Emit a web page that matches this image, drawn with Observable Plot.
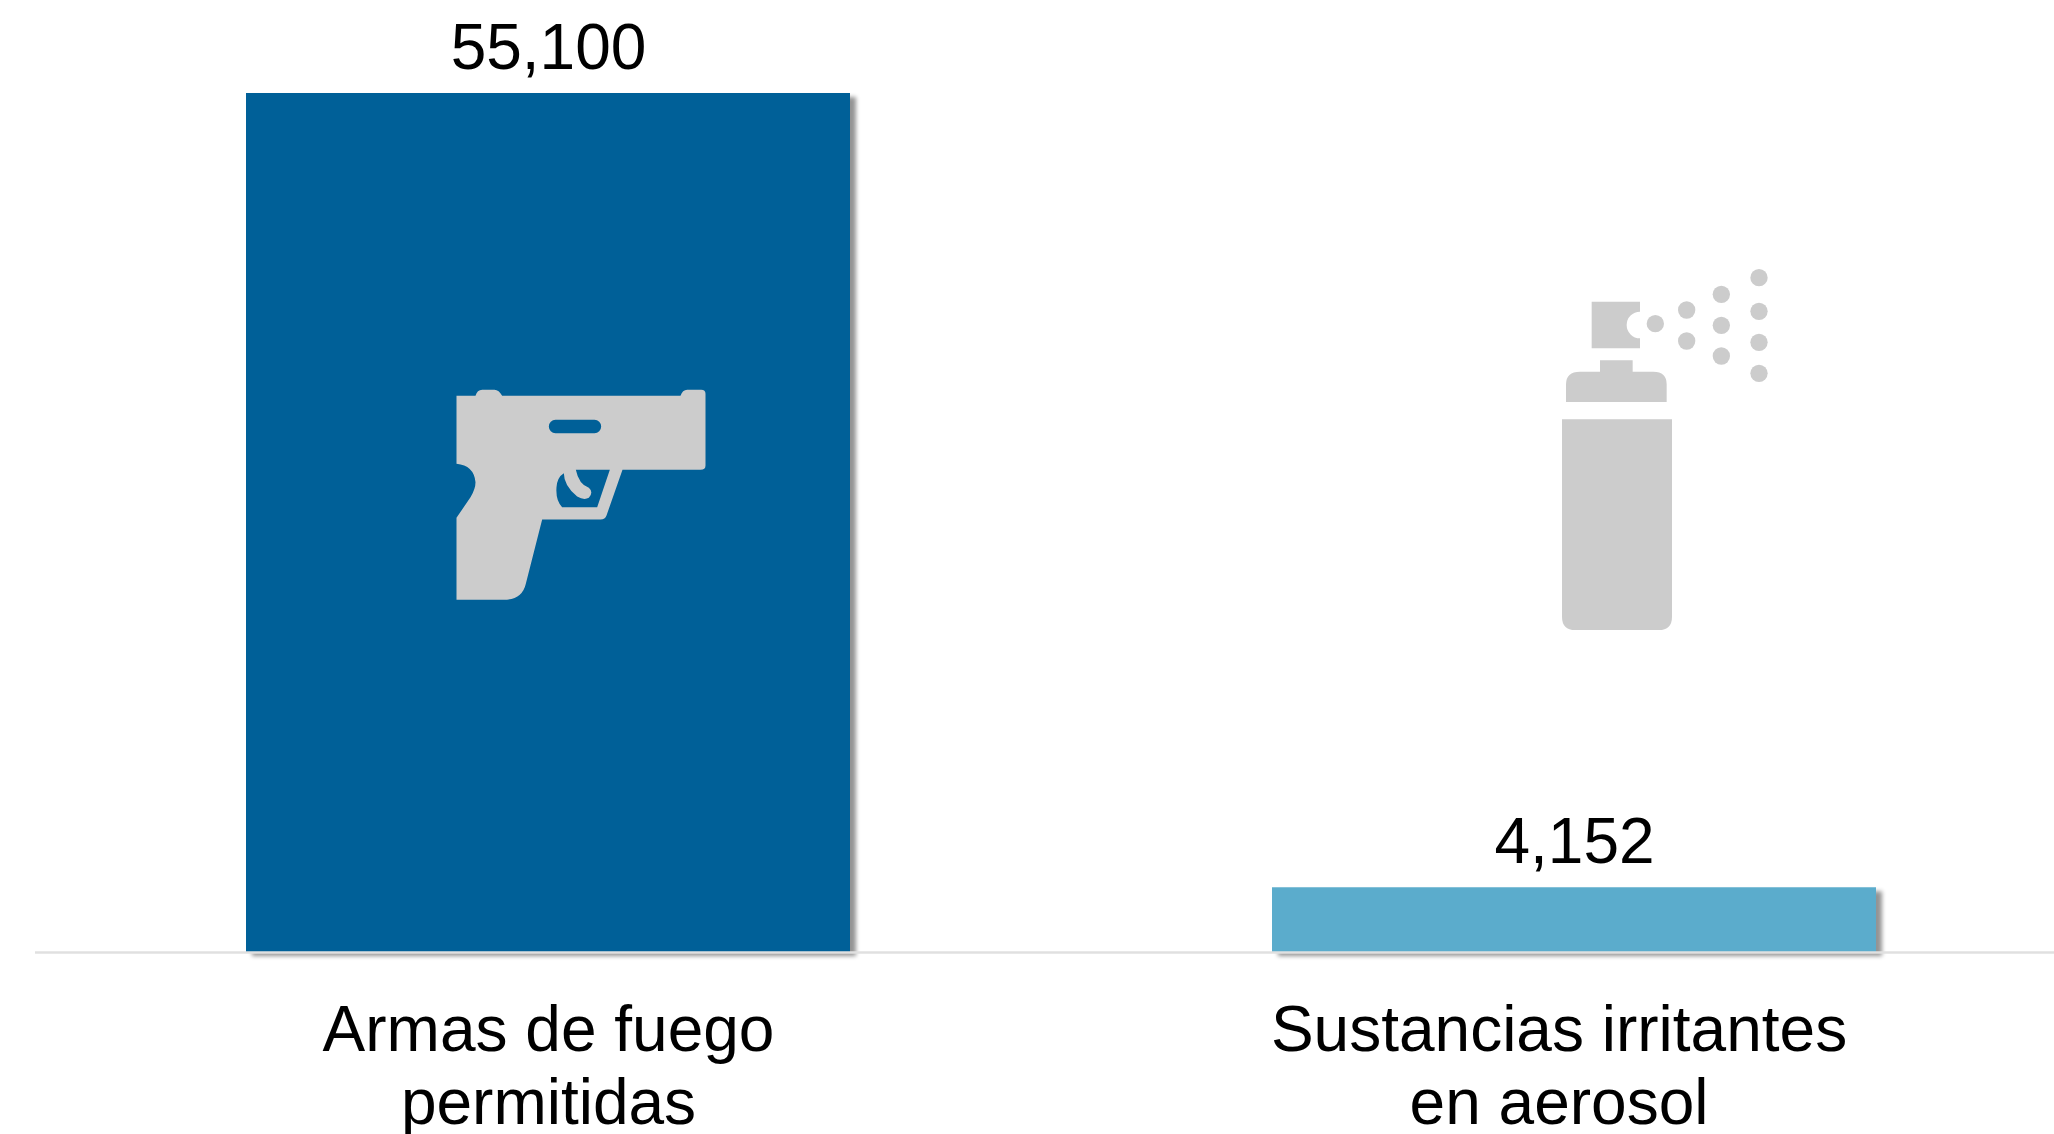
<!DOCTYPE html>
<html lang="es">
<head>
<meta charset="utf-8">
<title>Armas de fuego permitidas y sustancias irritantes en aerosol</title>
<script src="https://cdn.jsdelivr.net/npm/d3@7"></script>
<script src="https://cdn.jsdelivr.net/npm/@observablehq/plot@0.6"></script>
<style>
  html, body { margin: 0; padding: 0; background: #fff; overflow: hidden; }
  svg { display: block; }
  .shadowed rect { filter: drop-shadow(6px 4px 2px rgba(0,0,0,.42)); }
</style>
</head>
<body>
<div id="chart"></div>
<script>
const categories = ["Armas de fuego\npermitidas", "Sustancias irritantes\nen aerosol"];
const values = [55100, 4152];
const barColors = ["#006098", "#5BACCC"];

const iconColor = "#CCCCCC";
const gunPath = "M108 106L165 106Q170 88 185 88L222 88Q235 88 245 106L780 106Q786 88 800 88L842 88Q855 88 855 100L855 315Q855 328 840 328L606 328L558 465Q554 477 540 477L365 477L316 670Q305 718 250 718L108 718L108 472L150 410Q165 385 165 365Q160 315 108 310Z"
  + "M405 178L522 178A20 20 0 0 1 522 218L405 218A20 20 0 0 1 405 178Z"
  + "M466 328L568 328L530 440L425 440Q405 420 408 380Q410 350 430 338Q430 375 470 408Q490 420 505 412Q520 395 505 382Q475 372 466 328Z";
const sprayPath = "M185 152L330 152L330 182A40 40 0 0 0 330 262L330 292L185 292Z"
  + "M210 328L308 328L308 362L370 362Q410 362 410 400L410 453L108 453L108 400Q108 362 150 362L210 362Z"
  + "M96 505L426 505L426 1097Q426 1137 386 1137L136 1137Q96 1137 96 1097Z";
const sprayDots = [[376,218],[470,177],[470,270],[574,130],[574,223],[574,315],[687,80],[687,181],[687,274],[687,367]];

const svgUri = (w, h, body) => "data:image/svg+xml," + encodeURIComponent(
  `<svg xmlns="http://www.w3.org/2000/svg" viewBox="0 0 ${w} ${h}" width="${w}" height="${h}">${body}</svg>`);
const gunIcon = svgUri(960, 780, `<path fill="${iconColor}" fill-rule="evenodd" d="${gunPath}"/>`);
const sprayIcon = svgUri(810, 1200, `<path fill="${iconColor}" d="${sprayPath}"/>`
  + sprayDots.map(([cx, cy]) => `<circle cx="${cx}" cy="${cy}" r="26" fill="${iconColor}"/>`).join(""));

const table = categories.map((category, i) => ({category, value: values[i], color: barColors[i]}));
const fontFamily = "'Liberation Sans', Arial, sans-serif";
const labelStyle = {fontSize: 64, fill: "#000", fontFamily};

const chart = Plot.plot({
  width: 2054,
  height: 1134,
  marginTop: 93,
  marginBottom: 182,
  marginLeft: 35,
  marginRight: 0,
  style: {background: "#fff", overflow: "hidden"},
  x: {domain: categories, range: [35, 2087], paddingInner: 0.411, paddingOuter: 0.2055, align: 0.5, axis: null},
  y: {domain: [0, 55100], axis: null},
  color: {type: "identity"},
  marks: [
    Plot.barY(table, {x: "category", y: "value", fill: "color", className: "shadowed"}),
    Plot.ruleY([0], {stroke: "#E0E0E0", strokeWidth: 2.5, dy: 0}),
    Plot.image([table[0]], {x: "category", src: () => gunIcon, width: 320, height: 260, dx: 32, dy: -32.5}),
    Plot.image([table[1]], {x: "category", src: () => sprayIcon, width: 270, height: 400, dx: 90.5, dy: -72}),
    Plot.text(table, {x: "category", y: "value", text: d => d3.format(",")(d.value), lineAnchor: "bottom", dy: -25, ...labelStyle}),
    Plot.text([table[0]], {x: "category", y: 0, text: "category", lineAnchor: "top", dy: 47, lineHeight: 1.14, ...labelStyle}),
    Plot.text([table[1]], {x: "category", y: 0, text: "category", lineAnchor: "top", dy: 47, dx: -15.5, lineHeight: 1.14, ...labelStyle})
  ]
});
document.getElementById("chart").append(chart);
</script>
</body>
</html>
